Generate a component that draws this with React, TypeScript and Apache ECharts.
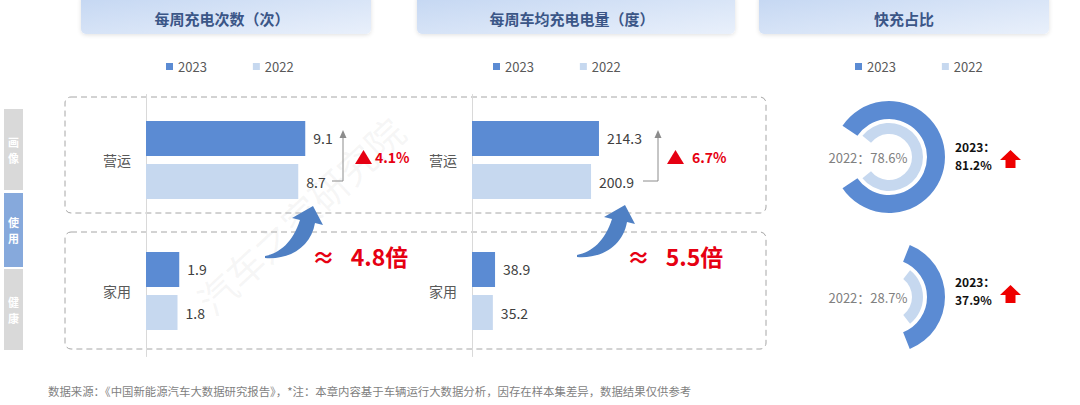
import React, { useEffect, useRef } from 'react';
import * as echarts from 'echarts';

const categories = ['营运', '家用'];
const years = ['2023', '2022'];
const chargeCount2023 = [9.1, 1.9];
const chargeCount2022 = [8.7, 1.8];
const chargeEnergy2023 = [214.3, 38.9];
const chargeEnergy2022 = [200.9, 35.2];
const fastShare2023 = [81.2, 37.9];
const fastShare2022 = [78.6, 28.7];
const growthLabels = ['4.1%', '6.7%'];
const multipleLabels = ['4.8倍', '5.5倍'];
const panelTitles = ['每周充电次数（次）', '每周车均充电电量（度）', '快充占比'];
const sideTabs = ['画像', '使用', '健康'];
const footnote = '数据来源：《中国新能源汽车大数据研究报告》，*注：本章内容基于车辆运行大数据分析，因存在样本集差异，数据结果仅供参考';

const C23 = '#5b8bd3';
const C22 = '#c6d8ef';
const FONT = '"Noto Sans CJK SC", "Noto Sans", sans-serif';

echarts.graphic.registerShape(
  'curveArrow',
  echarts.graphic.extendPath('M 0 0 C 15 -3 28 -14 35 -36 L 27 -38 L 48 -50 L 58 -31 L 50 -33 C 46 -10 26 4 0 2 Z', {})
);

function barSeries(name: string, data: number[], color: string, idx: number) {
  return {
    type: 'bar',
    name,
    xAxisIndex: idx,
    yAxisIndex: idx,
    data,
    barWidth: 35,
    barGap: '23%',
    itemStyle: { color },
    silent: true,
    label: { show: true, position: 'right', distance: 8, fontSize: 14, color: '#404040', fontFamily: FONT },
  };
}

function ring(name: string, value: number, cy: number, radius: number[], color: string) {
  return {
    type: 'pie',
    name,
    center: [889, cy],
    radius,
    startAngle: value * 1.8,
    clockwise: true,
    silent: true,
    avoidLabelOverlap: false,
    label: { show: false },
    labelLine: { show: false },
    emphasis: { disabled: true },
    data: [
      { value, name, itemStyle: { color } },
      { value: 100 - value, name: 'rest', itemStyle: { color: 'rgba(0,0,0,0)' } },
    ],
  };
}

function buildGraphics() {
  const g: any[] = [];
  // header boxes
  const boxes = [
    [81, 290, 222],
    [417, 318, 572],
    [759, 290, 904],
  ];
  boxes.forEach((b, i) => {
    g.push({
      type: 'rect',
      shape: { x: b[0], y: -6, width: b[1], height: 40, r: 5 },
      style: {
        fill: new echarts.graphic.LinearGradient(0, 0, 1, 1, [
          { offset: 0, color: '#c3d6f2' },
          { offset: 1, color: '#e9f0fb' },
        ]),
        shadowBlur: 4,
        shadowOffsetY: 1,
        shadowColor: 'rgba(0,0,0,0.12)',
      },
      silent: true,
    });
    g.push({
      type: 'text',
      x: b[2],
      y: 18,
      style: { text: panelTitles[i], fontSize: 15, fontWeight: 'bold', fill: '#3b5687', align: 'center', verticalAlign: 'middle', fontFamily: FONT },
      silent: true,
    });
  });
  // dashed boxes
  [[97, 116], [232, 117]].forEach((d) => {
    g.push({
      type: 'rect',
      shape: { x: 65, y: d[0], width: 701, height: d[1], r: 6 },
      style: { fill: 'none', stroke: '#a6a6a6', lineWidth: 1, lineDash: [6, 4] },
      silent: true,
    });
  });
  // side tabs
  const tabs = [
    [109, 81, '#d9d9d9'],
    [193, 74, '#86a9dc'],
    [269, 81, '#d9d9d9'],
  ];
  tabs.forEach((t, i) => {
    g.push({ type: 'rect', shape: { x: 4, y: t[0] as number, width: 19, height: t[1] as number }, style: { fill: t[2] as string }, silent: true });
    g.push({
      type: 'text',
      x: 13.5,
      y: (t[0] as number) + (t[1] as number) / 2,
      style: { text: sideTabs[i].split('').join('\n'), fontSize: 11, lineHeight: 16, fontWeight: 'bold', fill: '#ffffff', align: 'center', verticalAlign: 'middle', fontFamily: FONT },
      silent: true,
    });
  });
  // growth connectors + labels
  const conn = [
    { x0: 332, x1: 343, tri: 355, txt: 375, tail: [265, 256], mult: 312 },
    { x0: 643, x1: 658, tri: 667, txt: 692, tail: [577, 255], mult: 627 },
  ];
  conn.forEach((c, i) => {
    g.push({ type: 'polyline', shape: { points: [[c.x0, 181], [c.x1, 181], [c.x1, 137]] }, style: { stroke: '#8c8c8c', lineWidth: 1, fill: 'none' }, silent: true });
    g.push({ type: 'polygon', shape: { points: [[c.x1, 130], [c.x1 - 3.5, 138], [c.x1 + 3.5, 138]] }, style: { fill: '#8c8c8c' }, silent: true });
    g.push({ type: 'polygon', shape: { points: [[c.tri, 164], [c.tri + 8.5, 150], [c.tri + 17, 164]] }, style: { fill: '#e60012' }, silent: true });
    g.push({ type: 'text', x: c.txt, y: 157, style: { text: growthLabels[i], fontSize: 14, fontWeight: 'bold', fill: '#e60012', verticalAlign: 'middle', fontFamily: FONT }, silent: true });
    g.push({ type: 'curveArrow', x: c.tail[0], y: c.tail[1], style: { fill: '#4f80c4' }, silent: true });
    g.push({ type: 'text', x: c.mult, y: 256, style: { text: '≈   ' + multipleLabels[i], fontSize: 23, fontWeight: 'bold', fill: '#e60012', verticalAlign: 'middle', fontFamily: FONT }, silent: true });
  });
  // donut annotations
  const ys = [157, 297];
  const txtY = [155, 290];
  ys.forEach((y, i) => {
    g.push({ type: 'text', x: 868, y, style: { text: '2022：' + fastShare2022[i].toFixed(1) + '%', fontSize: 13, fill: '#808080', align: 'center', verticalAlign: 'middle', fontFamily: FONT }, silent: true });
    g.push({ type: 'text', x: 955, y: txtY[i] - 9, style: { text: '2023：', fontSize: 12, fontWeight: 'bold', fill: '#111111', verticalAlign: 'middle', fontFamily: FONT }, silent: true });
    g.push({ type: 'text', x: 955, y: txtY[i] + 9, style: { text: fastShare2023[i].toFixed(1) + '%', fontSize: 12, fontWeight: 'bold', fill: '#111111', verticalAlign: 'middle', fontFamily: FONT }, silent: true });
    const ay = txtY[i] + 4;
    g.push({
      type: 'polygon',
      shape: { points: [[1000, ay + 1], [1010.5, ay - 9], [1021, ay + 1], [1015.5, ay + 1], [1015.5, ay + 9], [1005.5, ay + 9], [1005.5, ay + 1]] },
      style: { fill: '#ee0000' },
      silent: true,
    });
  });
  // watermark
  g.push({ type: 'text', x: 300, y: 215, rotation: 0.75, style: { text: '汽车之家研究院', fontSize: 38, fill: 'rgba(160,160,160,0.10)', align: 'center', verticalAlign: 'middle', fontFamily: FONT }, silent: true, z: -1 });
  // footnote
  g.push({ type: 'text', x: 48, y: 391, style: { text: footnote, fontSize: 11.4, fill: '#7f7f7f', verticalAlign: 'middle', fontFamily: FONT }, silent: true });
  return g;
}

export default function App() {
  const ref = useRef<HTMLDivElement>(null);
  useEffect(() => {
    if (!ref.current) return;
    const chart = echarts.init(ref.current, undefined, { renderer: 'svg' });
    const yAxisBase = {
      type: 'category',
      data: categories,
      inverse: true,
      axisLine: { show: true, lineStyle: { color: '#d9d9d9' } },
      axisTick: { show: false },
      axisLabel: { margin: 15, fontSize: 14, color: '#595959', fontFamily: FONT },
      splitLine: { show: false },
    };
    const legendBase = {
      data: years,
      icon: 'rect',
      itemWidth: 7,
      itemHeight: 7,
      itemGap: 46,
      top: 55,
      selectedMode: false,
      textStyle: { fontSize: 13, color: '#595959', fontFamily: FONT },
    };
    chart.setOption({
      animation: false,
      textStyle: { fontFamily: FONT },
      legend: [
        { ...legendBase, left: 161 },
        { ...legendBase, left: 488 },
        { ...legendBase, left: 850 },
      ],
      grid: [
        { left: 146, top: 94.5, width: 175, height: 262 },
        { left: 472, top: 94.5, width: 237, height: 262 },
      ],
      xAxis: [
        { type: 'value', gridIndex: 0, min: 0, max: 10, show: false, splitLine: { show: false } },
        { type: 'value', gridIndex: 1, min: 0, max: 400, show: false, splitLine: { show: false } },
      ],
      yAxis: [
        { ...yAxisBase, gridIndex: 0 },
        { ...yAxisBase, gridIndex: 1 },
      ],
      series: [
        barSeries(years[0], chargeCount2023, C23, 0),
        barSeries(years[1], chargeCount2022, C22, 0),
        barSeries(years[0], chargeEnergy2023, C23, 1),
        barSeries(years[1], chargeEnergy2022, C22, 1),
        ring(years[0], fastShare2023[0], 157, [38, 56], C23),
        ring(years[1], fastShare2022[0], 157, [23, 34], C22),
        ring(years[0], fastShare2023[1], 297, [38, 56], C23),
        ring(years[1], fastShare2022[1], 297, [23, 34], C22),
      ],
      graphic: buildGraphics(),
    });
    return () => chart.dispose();
  }, []);
  return <div ref={ref} style={{ position: 'absolute', left: 0, top: 0, width: 1080, height: 405, background: '#fff' }} />;
}
